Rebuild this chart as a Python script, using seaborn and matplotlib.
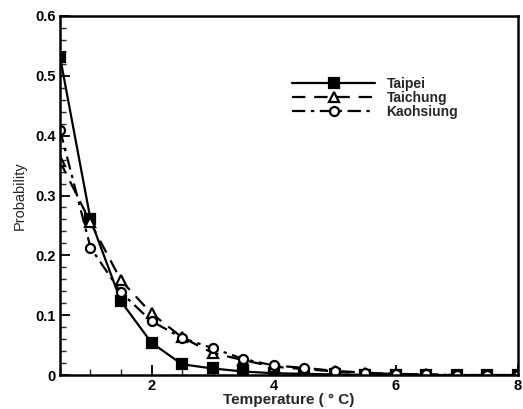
import matplotlib
matplotlib.use("Agg")
import matplotlib.pyplot as plt
import seaborn as sns
import pandas as pd
from matplotlib.ticker import MultipleLocator

temperature = [0.5, 1.0, 1.5, 2.0, 2.5, 3.0, 3.5, 4.0, 4.5, 5.0, 5.5, 6.0, 6.5, 7.0, 7.5, 8.0]
taipei = [0.532, 0.26, 0.123, 0.054, 0.018, 0.011, 0.006, 0.003, 0.002, 0.001, 0.0005, 0, 0, 0, 0, 0]
taichung = [0.357, 0.255, 0.158, 0.103, 0.063, 0.037, 0.025, 0.014, 0.010, 0.006, 0.003, 0.002, 0.001, 0, 0, 0]
kaohsiung = [0.41, 0.213, 0.138, 0.09, 0.062, 0.045, 0.027, 0.016, 0.012, 0.007, 0.004, 0.002, 0.001, 0, 0, 0]
series_names = ["Taipei", "Taichung", "Kaohsiung"]
x_ticks = [2, 4, 6, 8]
y_ticks = [0, 0.1, 0.2, 0.3, 0.4, 0.5, 0.6]
y_tick_labels = ["0", "0.1", "0.2", "0.3", "0.4", "0.5", "0.6"]

sns.set_theme(style="white")
plt.rcParams["font.family"] = ["Liberation Sans", "DejaVu Sans"]

fig = plt.figure(figsize=(5.23, 4.09), dpi=100)
ax = fig.add_axes([0.1147, 0.083, 0.875, 0.878])

styles = {
    "Taipei": dict(marker="s", linestyle="-", markerfacecolor="black", dashes=None),
    "Taichung": dict(marker="^", linestyle="--", markerfacecolor="white", dashes=(6, 4)),
    "Kaohsiung": dict(marker="o", linestyle="-.", markerfacecolor="white", dashes=(6, 2.5, 1.5, 2.5)),
}
values = {"Taipei": taipei, "Taichung": taichung, "Kaohsiung": kaohsiung}

for name in series_names:
    df = pd.DataFrame({"T": temperature, "P": values[name]})
    st = styles[name]
    kw = dict(color="black", linewidth=1.6, marker=st["marker"], markersize=6.5,
              markerfacecolor=st["markerfacecolor"], markeredgecolor="black",
              markeredgewidth=1.6, label=name)
    sns.lineplot(data=df, x="T", y="P", ax=ax, **kw)
    line = ax.get_lines()[-1]
    if st["dashes"] is not None:
        line.set_dashes(st["dashes"])

ax.set_xlim(0.5, 8)
ax.set_ylim(0, 0.6)
ax.set_xticks(x_ticks)
ax.set_xticklabels([str(t) for t in x_ticks], fontweight="bold", fontsize=10.5)
ax.set_yticks(y_ticks)
ax.set_yticklabels(y_tick_labels, fontweight="bold", fontsize=10.5)
ax.xaxis.set_minor_locator(MultipleLocator(0.5))
ax.yaxis.set_minor_locator(MultipleLocator(0.02))
ax.tick_params(axis="both", which="major", direction="in", length=7, width=1.3,
               bottom=True, left=True, top=False, right=False, pad=3, colors="black")
ax.tick_params(axis="both", which="minor", direction="in", length=4, width=1.0,
               bottom=True, left=True, top=False, right=False)
for sp in ax.spines.values():
    sp.set_color("black")
    sp.set_linewidth(1.8)

ax.set_xlabel("Temperature ( ° C)", fontsize=11, fontweight="bold", labelpad=0)
ax.set_ylabel("Probability", fontsize=10.5, labelpad=6)

leg = ax.legend(loc="upper left", bbox_to_anchor=(0.495, 0.845), frameon=False,
                handlelength=6.0, fontsize=10, labelspacing=0.0, handletextpad=0.8,
                borderaxespad=0)
for t in leg.get_texts():
    t.set_fontweight("bold")

fig.savefig("out.png", dpi=100, facecolor="white")
